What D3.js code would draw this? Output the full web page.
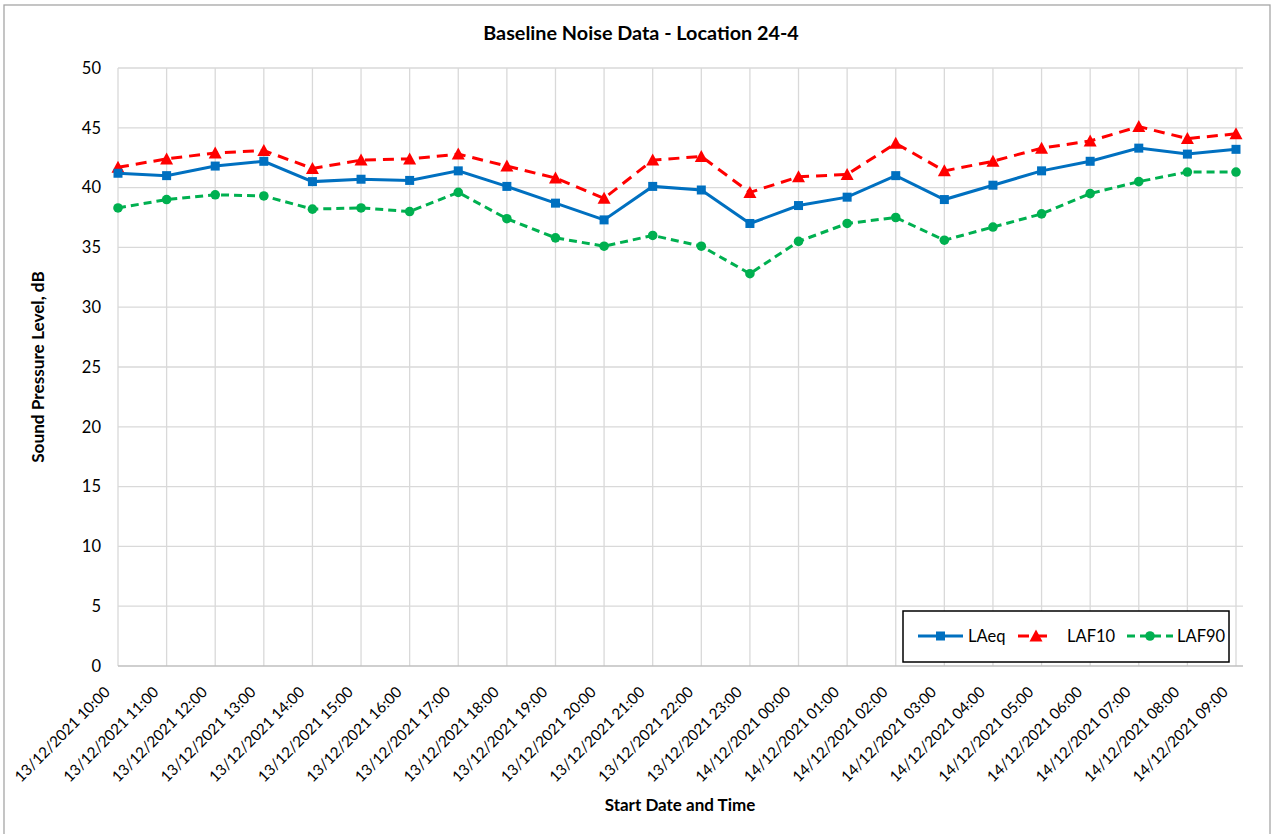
<!DOCTYPE html>
<meta charset="utf-8">
<style>
  body { margin: 0; background: #fff; }
  text { font-family: Lato, "Open Sans", sans-serif; fill: #000; }
</style>
<body>
<svg id="chart" width="1274" height="834"></svg>
<script src="https://cdnjs.cloudflare.com/ajax/libs/d3/7.8.5/d3.min.js"></script>
<script>
  const categories = [
    "13/12/2021 10:00", "13/12/2021 11:00", "13/12/2021 12:00", "13/12/2021 13:00",
    "13/12/2021 14:00", "13/12/2021 15:00", "13/12/2021 16:00", "13/12/2021 17:00",
    "13/12/2021 18:00", "13/12/2021 19:00", "13/12/2021 20:00", "13/12/2021 21:00",
    "13/12/2021 22:00", "13/12/2021 23:00", "14/12/2021 00:00", "14/12/2021 01:00",
    "14/12/2021 02:00", "14/12/2021 03:00", "14/12/2021 04:00", "14/12/2021 05:00",
    "14/12/2021 06:00", "14/12/2021 07:00", "14/12/2021 08:00", "14/12/2021 09:00"
  ];

  const laeq = [41.2, 41.0, 41.8, 42.2, 40.5, 40.7, 40.6, 41.4, 40.1, 38.7, 37.3, 40.1,
                39.8, 37.0, 38.5, 39.2, 41.0, 39.0, 40.2, 41.4, 42.2, 43.3, 42.8, 43.2];
  const laf10 = [41.7, 42.4, 42.9, 43.1, 41.6, 42.3, 42.4, 42.8, 41.8, 40.8, 39.1, 42.3,
                 42.6, 39.6, 40.9, 41.1, 43.7, 41.4, 42.2, 43.3, 43.9, 45.1, 44.1, 44.5];
  const laf90 = [38.3, 39.0, 39.4, 39.3, 38.2, 38.3, 38.0, 39.6, 37.4, 35.8, 35.1, 36.0,
                 35.1, 32.8, 35.5, 37.0, 37.5, 35.6, 36.7, 37.8, 39.5, 40.5, 41.3, 41.3];

  const yTicks = [0, 5, 10, 15, 20, 25, 30, 35, 40, 45, 50];

  const seriesList = [
    { name: "LAeq", values: laeq, color: "#0070C0", dash: null, marker: "square" },
    { name: "LAF10", values: laf10, color: "#FF0000", dash: "11,7", marker: "triangle" },
    { name: "LAF90", values: laf90, color: "#00B050", dash: "8,5", marker: "circle" }
  ];

  const svg = d3.select("#chart");

  const plotLeft = 118, plotRight = 1243, plotTop = 68, plotBottom = 666;
  const lastX = 1236;

  const x = d3.scalePoint().domain(categories).range([plotLeft, lastX]);
  const y = d3.scaleLinear().domain([0, 50]).range([plotBottom, plotTop]);

  // chart border
  svg.append("rect")
    .attr("x", 4).attr("y", 5).attr("width", 1266).attr("height", 835)
    .attr("fill", "none").attr("stroke", "#a6a6a6").attr("stroke-width", 1.3);

  // title
  svg.append("text")
    .attr("x", 641).attr("y", 40)
    .attr("text-anchor", "middle")
    .style("font-size", "19.8px").style("font-weight", "bold")
    .text("Baseline Noise Data - Location 24-4");

  // gridlines
  const grid = svg.append("g");
  grid.selectAll("line.h")
    .data(yTicks.filter(d => d > 0))
    .enter().append("line")
    .attr("x1", plotLeft).attr("x2", plotRight)
    .attr("y1", d => y(d)).attr("y2", d => y(d))
    .attr("stroke", "#d9d9d9").attr("stroke-width", 1.3);
  grid.selectAll("line.v")
    .data(categories)
    .enter().append("line")
    .attr("x1", d => x(d)).attr("x2", d => x(d))
    .attr("y1", plotTop).attr("y2", plotBottom)
    .attr("stroke", "#d9d9d9").attr("stroke-width", 1.3);

  // x axis line
  svg.append("line")
    .attr("x1", plotLeft).attr("x2", plotRight)
    .attr("y1", plotBottom).attr("y2", plotBottom)
    .attr("stroke", "#bfbfbf").attr("stroke-width", 1.5);

  // y tick labels
  svg.append("g").selectAll("text")
    .data(yTicks)
    .enter().append("text")
    .attr("x", 101).attr("y", d => y(d))
    .attr("dy", "0.35em")
    .attr("text-anchor", "end")
    .style("font-size", "16.5px")
    .text(d => d);

  // x tick labels
  svg.append("g").selectAll("text")
    .data(categories)
    .enter().append("text")
    .attr("transform", d => `translate(${x(d) - 7},${plotBottom + 27}) rotate(-45)`)
    .attr("text-anchor", "end")
    .style("font-size", "15.2px")
    .text(d => d);

  // axis titles
  svg.append("text")
    .attr("transform", `translate(44,367) rotate(-90)`)
    .attr("text-anchor", "middle")
    .style("font-size", "17.2px").style("font-weight", "bold")
    .text("Sound Pressure Level, dB");

  svg.append("text")
    .attr("x", 680).attr("y", 811)
    .attr("text-anchor", "middle")
    .style("font-size", "17px").style("font-weight", "bold")
    .text("Start Date and Time");

  function drawMarker(g, type, color, cx, cy) {
    if (type === "square") {
      g.append("rect").attr("x", cx - 4.5).attr("y", cy - 4.5)
        .attr("width", 9).attr("height", 9).attr("fill", color);
    } else if (type === "triangle") {
      g.append("path")
        .attr("d", `M${cx},${cy - 6.5} L${cx + 6.5},${cy + 5.5} L${cx - 6.5},${cy + 5.5} Z`)
        .attr("fill", color);
    } else {
      g.append("circle").attr("cx", cx).attr("cy", cy).attr("r", 4.8).attr("fill", color);
    }
  }

  const line = d3.line()
    .x((d, i) => x(categories[i]))
    .y(d => y(d));

  seriesList.slice().reverse().forEach(s => {
    const g = svg.append("g");
    g.append("path")
      .attr("d", line(s.values))
      .attr("fill", "none")
      .attr("stroke", s.color)
      .attr("stroke-width", 3)
      .attr("stroke-dasharray", s.dash);
    s.values.forEach((v, i) => drawMarker(g, s.marker, s.color, x(categories[i]), y(v)));
  });

  // legend
  const legend = svg.append("g");
  legend.append("rect")
    .attr("x", 903).attr("y", 611).attr("width", 326).attr("height", 51)
    .attr("fill", "#fff").attr("stroke", "#000").attr("stroke-width", 1.5);

  const legendPos = [
    { x1: 918, x2: 963, tx: 968 },
    { x1: 1018, x2: 1054, tx: 1067 },
    { x1: 1127, x2: 1173, tx: 1177 }
  ];
  seriesList.forEach((s, i) => {
    const p = legendPos[i];
    const ly = 636;
    legend.append("line")
      .attr("x1", p.x1).attr("x2", p.x2).attr("y1", ly).attr("y2", ly)
      .attr("stroke", s.color).attr("stroke-width", 3)
      .attr("stroke-dasharray", s.dash);
    drawMarker(legend, s.marker, s.color, (p.x1 + p.x2) / 2, ly);
    legend.append("text")
      .attr("x", p.tx).attr("y", ly).attr("dy", "0.35em")
      .style("font-size", "16.5px")
      .text(s.name);
  });
</script>
</body>
